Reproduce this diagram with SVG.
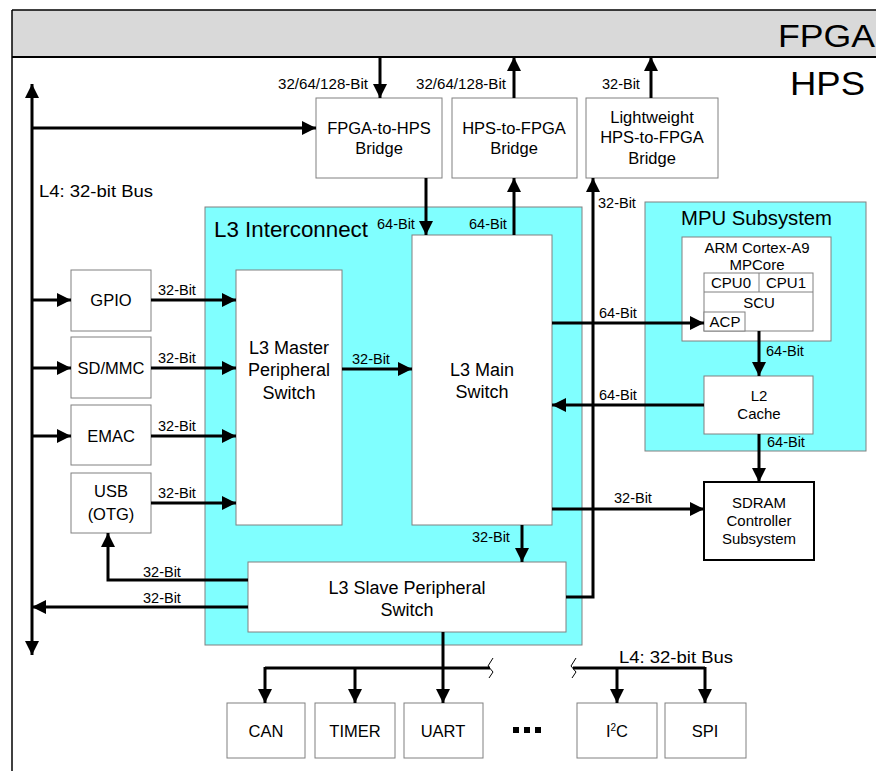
<svg xmlns="http://www.w3.org/2000/svg" width="876" height="771" viewBox="0 0 876 771">
<defs>
<marker id="ah" markerUnits="userSpaceOnUse" markerWidth="15" markerHeight="15" refX="14" refY="7" orient="auto">
<path d="M0,0 L14,7 L0,14 z" fill="#000"/>
</marker>
<style>
.box{fill:#fff;stroke:#808080;stroke-width:1}
.cyan{fill:#80ffff;stroke:#808080;stroke-width:1}
.t{font-family:"Liberation Sans",Arial,sans-serif;fill:#000;text-anchor:middle}
.b{font-size:16.5px}
.m{font-size:18px}
.c{font-size:15px}
.lbl{font-family:"Liberation Sans",Arial,sans-serif;font-size:14.5px;fill:#000}
.w{fill:none;stroke:#000;stroke-width:3}
.a{fill:none;stroke:#000;stroke-width:3;marker-end:url(#ah)}
.zz{fill:none;stroke:#000;stroke-width:1}
</style>
</defs>
<rect x="0" y="0" width="876" height="771" fill="#fff"/>
<g id="frame">
<rect x="12" y="10" width="870" height="47" fill="#d9d9d9"/>
<line x1="12" y1="10" x2="876" y2="10" stroke="#000" stroke-width="1.5"/>
<line x1="12" y1="57" x2="876" y2="57" stroke="#000" stroke-width="2"/>
<line x1="12" y1="10" x2="12" y2="771" stroke="#000" stroke-width="1.5"/>
<text x="778" y="47" font-family="Liberation Sans,Arial,sans-serif" font-size="32" textLength="97" lengthAdjust="spacingAndGlyphs">FPGA</text>
<text x="790" y="95" font-family="Liberation Sans,Arial,sans-serif" font-size="33" textLength="75" lengthAdjust="spacingAndGlyphs">HPS</text>
</g>
<g id="l3">
<rect class="cyan" x="205" y="207" width="377" height="438"/>
<text x="214" y="237" font-family="Liberation Sans,Arial,sans-serif" font-size="21.5" textLength="154" lengthAdjust="spacingAndGlyphs">L3 Interconnect</text>
</g>
<g id="mpu">
<rect class="cyan" x="645" y="202" width="221" height="249"/>
<text x="681" y="225" font-family="Liberation Sans,Arial,sans-serif" font-size="20" textLength="151" lengthAdjust="spacingAndGlyphs">MPU Subsystem</text>
</g>
<g id="fpga2hps"><rect class="box" x="316" y="98" width="126" height="80"/>
<text class="t b" x="379" y="134">FPGA-to-HPS</text><text class="t b" x="379" y="154">Bridge</text></g>
<g id="hps2fpga"><rect class="box" x="452" y="98" width="125" height="80"/>
<text class="t b" x="514" y="134">HPS-to-FPGA</text><text class="t b" x="514" y="154">Bridge</text></g>
<g id="lwbridge"><rect class="box" x="586" y="98" width="132" height="80"/>
<text class="t b" x="652" y="123">Lightweight</text><text class="t b" x="652" y="143">HPS-to-FPGA</text><text class="t b" x="652" y="164">Bridge</text></g>
<g id="gpio"><rect class="box" x="71" y="270" width="80" height="61"/><text class="t b" x="111" y="306">GPIO</text></g>
<g id="sdmmc"><rect class="box" x="71" y="337" width="80" height="61"/><text class="t b" x="111" y="374">SD/MMC</text></g>
<g id="emac"><rect class="box" x="71" y="405" width="80" height="60"/><text class="t b" x="111" y="442">EMAC</text></g>
<g id="usb"><rect class="box" x="71" y="473" width="80" height="60"/><text class="t b" x="111" y="497">USB</text><text class="t b" x="111" y="520">(OTG)</text></g>
<g id="l3master"><rect class="box" x="236" y="270" width="106" height="255"/>
<text class="t m" x="289" y="354">L3 Master</text><text class="t m" x="289" y="376">Peripheral</text><text class="t m" x="289" y="399">Switch</text></g>
<g id="l3main"><rect class="box" x="412" y="235" width="140" height="290"/>
<text class="t m" x="482" y="376">L3 Main</text><text class="t m" x="482" y="398">Switch</text></g>
<g id="l3slave"><rect class="box" x="248" y="562" width="318" height="70"/>
<text class="t m" x="407" y="594">L3 Slave Peripheral</text><text class="t m" x="407" y="616">Switch</text></g>
<g id="arm"><rect class="box" x="682" y="237" width="149" height="104"/>
<text class="t c" x="757" y="253">ARM Cortex-A9</text><text class="t c" x="757" y="270">MPCore</text>
<rect class="box" x="704" y="273" width="109" height="58"/>
<line x1="704" y1="292" x2="813" y2="292" stroke="#808080"/>
<line x1="759" y1="273" x2="759" y2="292" stroke="#808080"/>
<rect class="box" x="704" y="312" width="41" height="19"/>
<text class="t c" x="731" y="288">CPU0</text><text class="t c" x="786" y="288">CPU1</text>
<text class="t c" x="759" y="308">SCU</text><text class="t c" x="725" y="327">ACP</text></g>
<g id="l2"><rect class="box" x="704" y="376" width="109" height="58"/>
<text class="t c" x="759" y="401">L2</text><text class="t c" x="759" y="419">Cache</text></g>
<g id="sdram"><rect x="704" y="482" width="110" height="78" fill="#fff" stroke="#000" stroke-width="2"/>
<text class="t c" x="759" y="508">SDRAM</text><text class="t c" x="759" y="526">Controller</text><text class="t c" x="759" y="544">Subsystem</text></g>
<g id="can"><rect class="box" x="227" y="703" width="78" height="55"/><text class="t b" x="266" y="737">CAN</text></g>
<g id="timer"><rect class="box" x="315" y="703" width="80" height="55"/><text class="t b" x="355" y="737">TIMER</text></g>
<g id="uart"><rect class="box" x="404" y="703" width="79" height="55"/><text class="t b" x="443" y="737">UART</text></g>
<g id="i2c"><rect class="box" x="577" y="703" width="80" height="55"/><text class="t b" x="617" y="737">I<tspan font-size="10" dy="-6">2</tspan><tspan dy="6">C</tspan></text></g>
<g id="spi"><rect class="box" x="665" y="703" width="81" height="55"/><text class="t b" x="705" y="737">SPI</text></g>
<g id="dots"><rect x="513" y="727" width="6" height="6"/><rect x="524" y="727" width="6" height="6"/><rect x="535" y="727" width="6" height="6"/></g>
<g id="connectors">
<path class="a" d="M32,400 V84"/>
<path class="a" d="M32,400 V655"/>
<path class="a" d="M32,128 H316"/>
<path class="a" d="M32,300 H71"/>
<path class="a" d="M32,368 H71"/>
<path class="a" d="M32,436 H71"/>
<path class="a" d="M151,300 H236"/>
<path class="a" d="M151,368 H236"/>
<path class="a" d="M151,436 H236"/>
<path class="a" d="M151,503 H236"/>
<path class="a" d="M342,369 H412"/>
<path class="a" d="M380,57 V98"/>
<path class="a" d="M514,98 V57"/>
<path class="a" d="M651,98 V57"/>
<path class="a" d="M426,178 V235"/>
<path class="a" d="M514,235 V178"/>
<path class="a" d="M566,597 H593 V178"/>
<path class="a" d="M552,323 H704"/>
<path class="a" d="M759,331 V376"/>
<path class="a" d="M704,405 H552"/>
<path class="a" d="M759,434 V482"/>
<path class="a" d="M552,509 H704"/>
<path class="a" d="M522,525 V562"/>
<path class="a" d="M248,580 H108 V533"/>
<path class="a" d="M248,607 H32"/>
<path class="w" d="M443,632 V668"/>
<path class="w" d="M265,668 H490"/>
<path class="a" d="M265,667 V703"/>
<path class="a" d="M355,668 V703"/>
<path class="a" d="M443,668 V703"/>
<path class="w" d="M573,668 H705"/>
<path class="a" d="M617,668 V703"/>
<path class="a" d="M705,667 V703"/>
<path class="zz" d="M493,658 L488,666 L493,672 L489,678"/>
<path class="zz" d="M576,658 L571,666 L576,672 L572,678"/>
</g>
<g id="labels">
<text class="lbl" x="278" y="89" textLength="90" lengthAdjust="spacingAndGlyphs">32/64/128-Bit</text>
<text class="lbl" x="416" y="89" textLength="90" lengthAdjust="spacingAndGlyphs">32/64/128-Bit</text>
<text class="lbl" x="602" y="89">32-Bit</text>
<text x="39" y="197" font-family="Liberation Sans,Arial,sans-serif" font-size="17" textLength="114" lengthAdjust="spacingAndGlyphs">L4: 32-bit Bus</text>
<text class="lbl" x="377" y="229">64-Bit</text>
<text class="lbl" x="469" y="229">64-Bit</text>
<text class="lbl" x="598" y="208">32-Bit</text>
<text class="lbl" x="158" y="295">32-Bit</text>
<text class="lbl" x="158" y="363">32-Bit</text>
<text class="lbl" x="158" y="431">32-Bit</text>
<text class="lbl" x="158" y="498">32-Bit</text>
<text class="lbl" x="352" y="364">32-Bit</text>
<text class="lbl" x="599" y="318">64-Bit</text>
<text class="lbl" x="766" y="356">64-Bit</text>
<text class="lbl" x="599" y="400">64-Bit</text>
<text class="lbl" x="767" y="447">64-Bit</text>
<text class="lbl" x="614" y="503">32-Bit</text>
<text class="lbl" x="472" y="542">32-Bit</text>
<text class="lbl" x="143" y="577">32-Bit</text>
<text class="lbl" x="143" y="603">32-Bit</text>
<text x="619" y="663" font-family="Liberation Sans,Arial,sans-serif" font-size="17" textLength="114" lengthAdjust="spacingAndGlyphs">L4: 32-bit Bus</text>
</g>
</svg>
